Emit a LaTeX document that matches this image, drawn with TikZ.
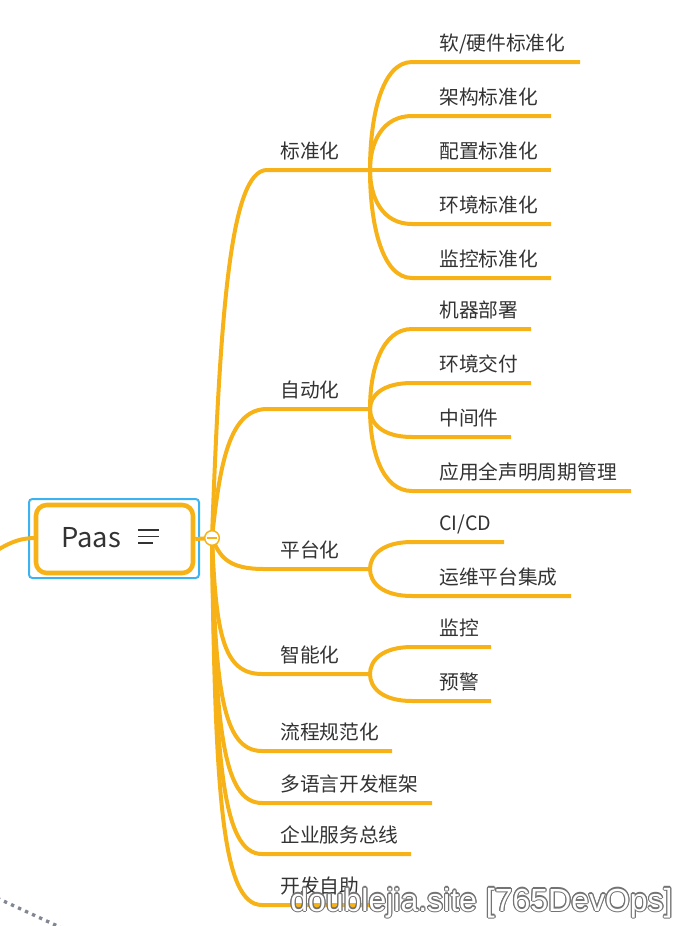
\documentclass[tikz,border=0pt]{standalone}
\usepackage{fontspec}
\setmainfont{Noto Sans CJK SC}
\newfontfamily\wmfont{Liberation Sans}
\definecolor{br}{RGB}{246,178,23}
\definecolor{txt}{RGB}{51,51,51}
\definecolor{sel}{RGB}{61,178,240}
\definecolor{dotc}{RGB}{128,134,146}
\definecolor{wmgray}{RGB}{115,115,115}
\begin{document}
\begin{tikzpicture}[x=0.75pt,y=-0.75pt,
  branch/.style={draw=br,line width=3pt},
  lbl/.style={anchor=base west,inner sep=0pt,text=txt,font=\fontsize{14.8}{16}\selectfont},
  wm/.style={anchor=base west,inner sep=0pt,font=\wmfont\fontsize{24}{28}\selectfont},
]
\useasboundingbox (0,0) rectangle (683,926);

% selection frame
\node[draw=sel,line width=1.5pt,rounded corners=2.5pt,minimum width=127.5pt,minimum height=59.25pt,inner sep=0pt] (selbox) at (114,538.5) {};

% incoming line from the left
\coordinate (leftin) at (-4,551);
\coordinate (hc) at (212,538);

% first level coordinates
\coordinate (j1) at (370,170);
\coordinate (j2) at (370,409);
\coordinate (j3) at (370,569);
\coordinate (j4) at (370,674);
\coordinate (e5) at (392,751);
\coordinate (e6) at (432,803);
\coordinate (e7) at (411,854);
\coordinate (e8) at (372,905);

% first level branches
\draw[branch] (hc) .. controls (220,317) and (230,170) .. (267,170) -- (j1);
\draw[branch] (hc) .. controls (220,461) and (230,409) .. (267,409) -- (j2);
\draw[branch] (hc) .. controls (220,557) and (228,569) .. (264,569) -- (j3);
\draw[branch] (hc) .. controls (216,634) and (223,674) .. (262,674) -- (j4);
\draw[branch] (hc) .. controls (215,687) and (222,751) .. (262,751) -- (e5);
\draw[branch] (hc) .. controls (215,724) and (222,803) .. (262,803) -- (e6);
\draw[branch] (hc) .. controls (215,759) and (222,854) .. (262,854) -- (e7);
\draw[branch] (hc) .. controls (215,795) and (222,905) .. (262,905) -- (e8);

% first level labels
\node[lbl] (n1) at (280,158) {标准化};
\node[lbl] (n2) at (280,397) {自动化};
\node[lbl] (n3) at (280,557) {平台化};
\node[lbl] (n4) at (280,662) {智能化};
\node[lbl] (n5) at (280,739) {流程规范化};
\node[lbl] (n6) at (280,791) {多语言开发框架};
\node[lbl] (n7) at (280,842) {企业服务总线};
\node[lbl] (n8) at (280,893) {开发自助};

% second level end points
\coordinate (t11) at (580,62);
\coordinate (t12) at (551,116);
\coordinate (t13) at (551,170);
\coordinate (t14) at (551,224);
\coordinate (t15) at (551,278);
\coordinate (t21) at (531,329);
\coordinate (t22) at (531,383);
\coordinate (t23) at (511,437);
\coordinate (t24) at (631,491);
\coordinate (t31) at (504,542);
\coordinate (t32) at (571,596);
\coordinate (t41) at (491,647);
\coordinate (t42) at (491,701);

% second level branches
\draw[branch] (j1) .. controls (370,116) and (382,62) .. (412,62) -- (t11);
\draw[branch] (j1) .. controls (370,143) and (382,116) .. (412,116) -- (t12);
\draw[branch] (j1) -- (t13);
\draw[branch] (j1) .. controls (370,197) and (382,224) .. (412,224) -- (t14);
\draw[branch] (j1) .. controls (370,224) and (382,278) .. (412,278) -- (t15);

\draw[branch] (j2) .. controls (370,369) and (382,329) .. (412,329) -- (t21);
\draw[branch] (j2) .. controls (370,396) and (382,383) .. (412,383) -- (t22);
\draw[branch] (j2) .. controls (370,423) and (382,437) .. (412,437) -- (t23);
\draw[branch] (j2) .. controls (370,450) and (382,491) .. (412,491) -- (t24);

\draw[branch] (j3) .. controls (370,555.5) and (382,542) .. (412,542) -- (t31);
\draw[branch] (j3) .. controls (370,582.5) and (382,596) .. (412,596) -- (t32);

\draw[branch] (j4) .. controls (370,660.5) and (382,647) .. (412,647) -- (t41);
\draw[branch] (j4) .. controls (370,687.5) and (382,701) .. (412,701) -- (t42);

% second level labels
\node[lbl] (s11) at (439,50) {软/硬件标准化};
\node[lbl] (s12) at (439,104) {架构标准化};
\node[lbl] (s13) at (439,158) {配置标准化};
\node[lbl] (s14) at (439,212) {环境标准化};
\node[lbl] (s15) at (439,266) {监控标准化};
\node[lbl] (s21) at (439,317) {机器部署};
\node[lbl] (s22) at (439,371) {环境交付};
\node[lbl] (s23) at (439,425) {中间件};
\node[lbl] (s24) at (439,479) {应用全声明周期管理};
\node[lbl] (s31) at (439,530) {CI/CD};
\node[lbl] (s32) at (439,584) {运维平台集成};
\node[lbl] (s41) at (439,635) {监控};
\node[lbl] (s42) at (439,689) {预警};

% root
\draw[branch] (leftin) .. controls (12,541) and (22,538) .. (36,538);
\node[draw=br,fill=white,line width=3.4pt,rounded corners=8pt,minimum width=117.75pt,minimum height=51pt,inner sep=0pt] (paas) at (114.5,539) {};
\node[anchor=west,inner sep=0pt,text=txt,font=\fontsize{20.5}{24}\selectfont] (paastext) at (61,538) {Paas};
\draw[txt,line width=1.1pt] (138,530) -- (159,530);
\draw[txt,line width=1.1pt] (138,536.5) -- (159,536.5);
\draw[txt,line width=1.1pt] (138,543) -- (153,543);
\draw[branch] (paas.east) -- (hc);

% collapse button
\node[circle,draw=br,fill=white,line width=1.1pt,minimum size=11pt,inner sep=0pt] (hub) at (hc) {};
\draw[br,line width=1pt] ([xshift=-3.6pt]hub.center) -- ([xshift=3.6pt]hub.center);

% dotted relation line
\coordinate (dot1) at (-3,898);
\coordinate (dot2) at (64,929);
\draw[dotc,line width=2.5pt,dash pattern=on 2.5pt off 3.3pt] (dot1) -- (dot2);

% watermark
\foreach \a in {0,30,...,330}
  \node[wm,text=wmgray] (wm\a) at ([shift={(\a:0.85pt)}]290,911) {doublejia.site [765DevOps]};
\node[wm,text=white] (wm) at (290,911) {doublejia.site [765DevOps]};
\end{tikzpicture}
\end{document}
